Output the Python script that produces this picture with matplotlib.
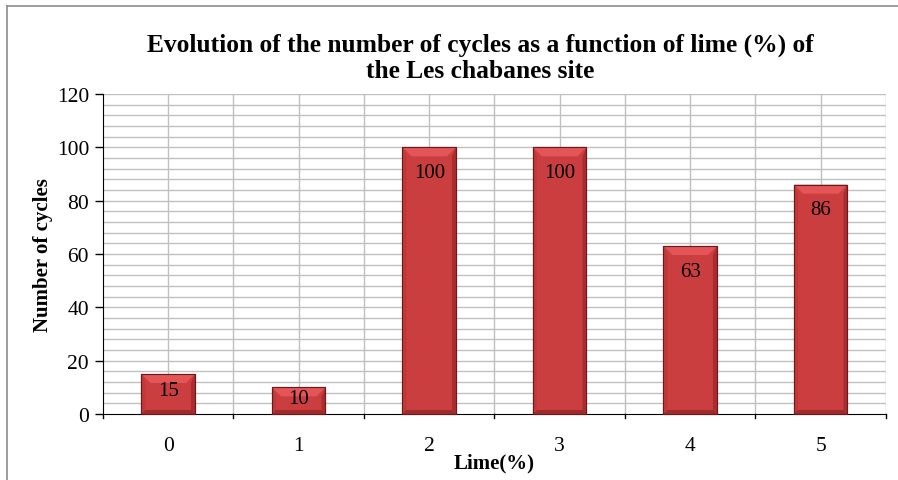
import matplotlib
matplotlib.use("Agg")
import matplotlib.pyplot as plt
from matplotlib.patches import Polygon
from matplotlib.lines import Line2D
import numpy as np

categories = ["0", "1", "2", "3", "4", "5"]
cycles = [15, 10, 100, 100, 63, 86]
y_ticks = [0, 20, 40, 60, 80, 100, 120]

title = "Evolution of the number of cycles as a function of lime (%) of\nthe Les chabanes site"
xlabel = "Lime(%)"
ylabel = "Number of cycles"

plt.rcParams['font.family'] = ['Liberation Serif', 'DejaVu Serif']

fig = plt.figure(figsize=(8.98, 4.81), dpi=100)
ax = fig.add_axes([0.1147, 0.1372, 0.8719, 0.6653])

x = np.arange(len(categories))
ax.set_xlim(-0.5, len(categories) - 0.5)
ax.set_ylim(0, 120)

# grid lines
for gy in np.arange(4, 121, 4):
    ax.axhline(gy, color='#C0C0C0', linewidth=1.0, zorder=1)
for gx in np.arange(-0.5, len(categories), 0.5)[1:]:
    ax.axvline(gx, color='#C0C0C0', linewidth=1.0, zorder=1)

bar_w = 0.41
face = '#CB3E40'
bars = ax.bar(x, cycles, width=bar_w, color=face, edgecolor='#5e1616', linewidth=0.8, zorder=3)

fig.canvas.draw()
T = ax.transData
bev = 9
for b in bars:
    x0, y0 = T.transform((b.get_x(), 0))
    x1, y1 = T.transform((b.get_x() + b.get_width(), b.get_height()))
    h = y1 - y0
    bv = min(bev, h / 2.5)
    sv = 4
    polys = [
        ([(x0, y1), (x1, y1), (x1 - bv, y1 - bv), (x0 + bv, y1 - bv)], '#E35556'),
        ([(x0, y0), (x0, y1), (x0 + sv, y1 - bv), (x0 + sv, y0 + sv)], '#C23738'),
        ([(x1, y0), (x1, y1), (x1 - sv, y1 - bv), (x1 - sv, y0 + sv)], '#A92C2E'),
        ([(x0, y0), (x1, y0), (x1 - sv, y0 + sv), (x0 + sv, y0 + sv)], '#9E2A2B'),
    ]
    for pts, c in polys:
        fig.patches.append(Polygon(pts, closed=True, transform=None, facecolor=c,
                                   edgecolor='none', zorder=4, figure=fig))
    fig.patches.append(Polygon([(x0, y0), (x1, y0), (x1, y1), (x0, y1)], closed=True,
                               transform=None, facecolor='none', edgecolor='#6a1a1a',
                               linewidth=0.8, zorder=5, figure=fig))
    off = min(25, h * 0.4)
    fig.text(((x0 + x1) / 2) / fig.bbox.width, (y1 - off) / fig.bbox.height,
             f"{int(b.get_height())}", ha='center', va='center', fontsize=15,
             color='black', zorder=10)

# axes
ax.set_yticks(y_ticks)
ax.set_yticklabels([str(v) for v in y_ticks], fontsize=15.5)
ax.set_xticks(x)
ax.set_xticklabels(categories, fontsize=15.5)
ax.tick_params(axis='x', which='major', length=0, pad=16)
ax.tick_params(axis='y', which='major', length=6, width=1, direction='out', pad=4)
for xb in np.arange(-0.5, len(categories), 1.0):
    ax.plot([xb, xb], [0, -1.6], color='black', linewidth=1, clip_on=False, zorder=6)

for s in ['top', 'right']:
    ax.spines[s].set_visible(False)
ax.spines['left'].set_color('black')
ax.spines['bottom'].set_color('black')
ax.spines['left'].set_zorder(6)
ax.spines['bottom'].set_zorder(6)

ax.set_xlabel(xlabel, fontsize=15, fontweight='bold', labelpad=-2)
ax.set_ylabel(ylabel, fontsize=15, fontweight='bold', labelpad=3)

fig.text(0.535, 0.879, title, ha='center', va='center', fontsize=18.4,
         fontweight='bold', linespacing=1.2)

# outer chart border (left & top visible)
fig.add_artist(Line2D([7 / 898, 7 / 898], [0, 1 - 7 / 481], color='#8c8c8c', linewidth=1.2))
fig.add_artist(Line2D([7 / 898, 1], [1 - 7 / 481, 1 - 7 / 481], color='#8c8c8c', linewidth=1.2))

fig.savefig("out.png", dpi=100)
